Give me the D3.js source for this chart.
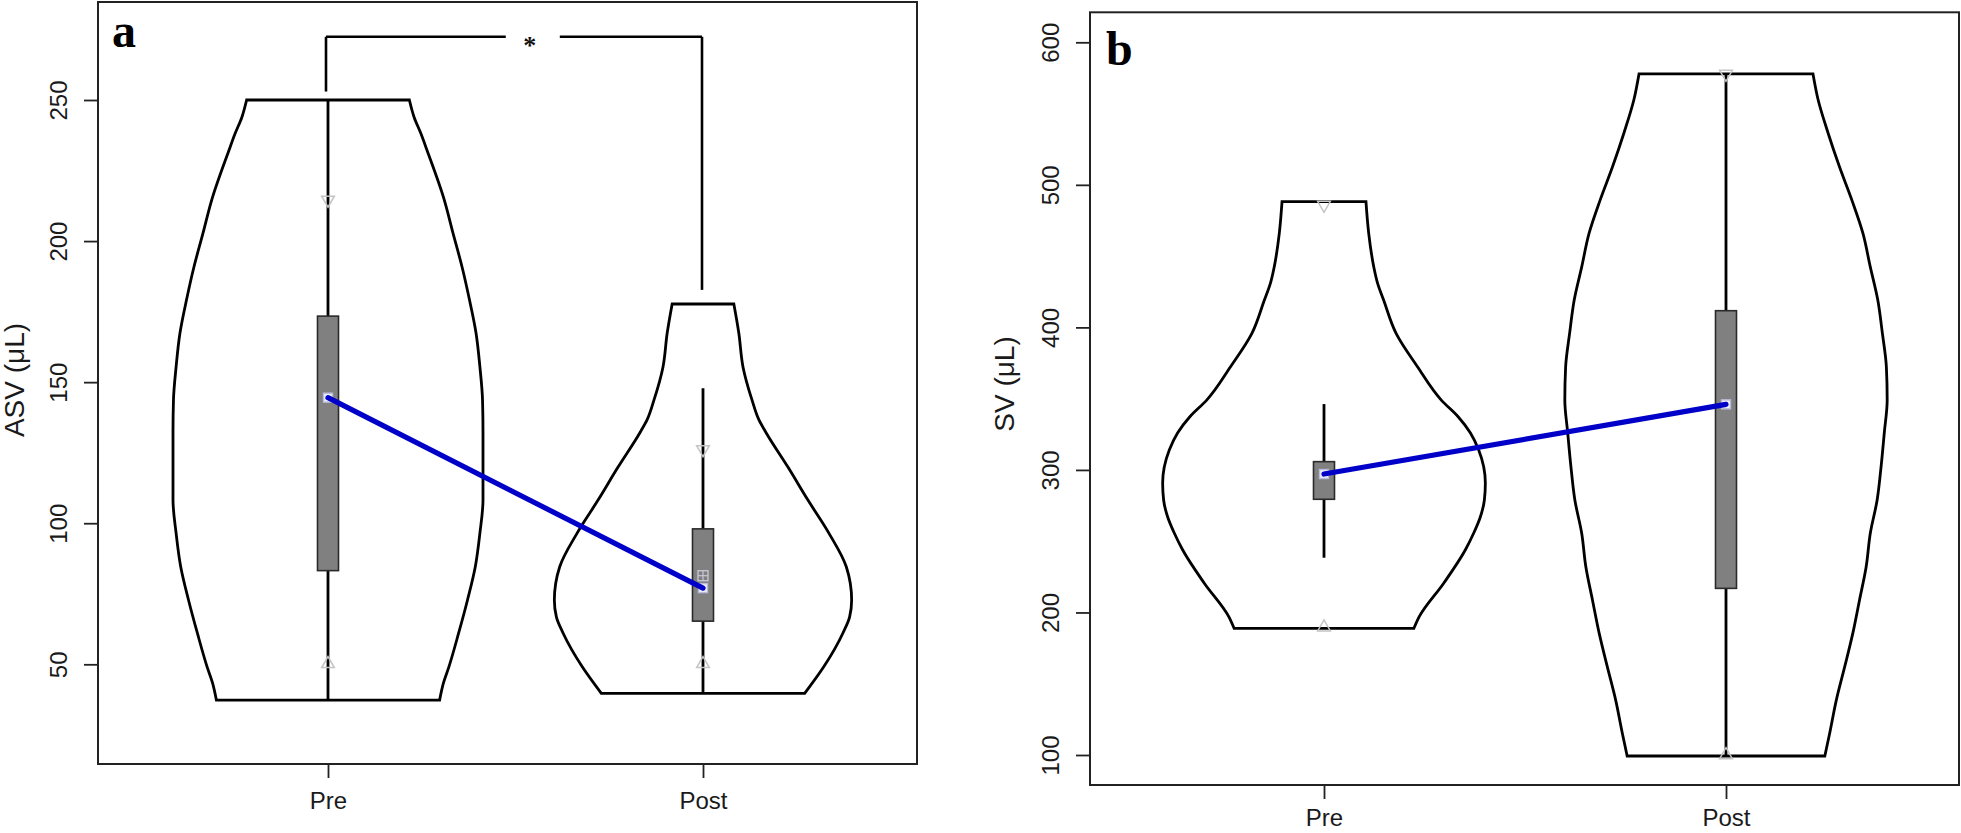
<!DOCTYPE html>
<html><head><meta charset="utf-8">
<script src="https://cdn.jsdelivr.net/npm/d3@7/dist/d3.min.js"></script>
<style>
html,body{margin:0;padding:0;background:#fff;}
svg{display:block;}
</style></head><body>
<svg id="chart" width="1961" height="833"></svg>
<script>
// ---------------- DATA ----------------
const categories = ["Pre", "Post"];

// Panel a: ASV (µL)
const asvTicks = [50, 100, 150, 200, 250];
// [value, relative density (0..1)]
const asvPreDensity = [[37.3,0.72],[43.4,0.745],[49.1,0.78],[61.1,0.843],[72.8,0.90],[84.5,0.95],[96.5,0.98],[108.2,1.0],[120,1.0],[132,1.0],[143.7,0.997],[155.4,0.98],[167.4,0.955],[179.1,0.913],[190.8,0.865],[202.9,0.806],[214.6,0.75],[232,0.64],[238,0.60],[244,0.555],[250,0.525]];
const asvPostDensity = [[39.7,0.656],[49.1,0.779],[61.1,0.903],[66.8,0.946],[72.8,0.959],[84.5,0.925],[96.5,0.812],[108.2,0.677],[119.9,0.548],[132,0.408],[136.6,0.361],[143.7,0.316],[155.4,0.258],[167.4,0.231],[177.7,0.199]];
const asvWhiskerLow = [37.3, 39.7];
const asvQ1 = [83.2, 65.3];
const asvMedian = [144.5, 77.0];
const asvQ3 = [173.4, 98.0];
const asvWhiskerHigh = [250, 147.8];
const asvUpperMark = [214.6, 126.2];
const asvLowerMark = [49.8, 49.8];
const asvMean = [null, 81.4];
const asvBracket = [272.4, 253.0, 182.7]; // level, left end, right end
const asvSignif = "*";

// Panel b: SV (µL)
const svTicks = [100, 200, 300, 400, 500, 600];
const svPreDensity = [[188.9,0.555],[196.9,0.587],[220.7,0.74],[244,0.873],[255.9,0.925],[267,0.965],[278.9,0.99],[290.8,0.996],[313.9,0.955],[325.9,0.904],[337.3,0.828],[349,0.724],[372.4,0.577],[395.8,0.445],[419.2,0.368],[430.9,0.331],[442.6,0.307],[466,0.276],[488.2,0.259]];
const svPostDensity = [[99.3,0.61],[115.3,0.64],[138.5,0.681],[161.6,0.732],[185.5,0.783],[208.6,0.824],[231.9,0.865],[255.7,0.891],[278.9,0.933],[302,0.957],[325.9,0.977],[349,0.995],[372.2,0.99],[396.1,0.965],[419.2,0.937],[442.3,0.891],[466.1,0.845],[489.3,0.777],[512.5,0.701],[536.4,0.63],[559.5,0.569],[577.8,0.537]];
const svWhiskerLow = [238.4, 99.3];
const svQ1 = [279.4, 216.9];
const svMedian = [297.1, 346.0];
const svQ3 = [305.8, 411.7];
const svWhiskerHigh = [346.2, 577.8];
const svUpperMark = [485.9, 577.8];
const svLowerMark = [188.9, 99.3];
const svMean = [null, null];

// ---------------- LAYOUT ----------------
const svg = d3.select("#chart");
const FONT = "'Liberation Sans', Arial, sans-serif";
const INK = "#1a1a1a";

const panels = [
  { label: "a", title: "ASV (\u03bcL)", ticks: asvTicks,
    dens: [asvPreDensity, asvPostDensity],
    wLo: asvWhiskerLow, q1: asvQ1, med: asvMedian, q3: asvQ3, wHi: asvWhiskerHigh,
    upM: asvUpperMark, loM: asvLowerMark, mean: asvMean,
    frame: {x0: 98, x1: 917, y0: 2, y1: 764},
    yDom: [50, 250], yRng: [664.3, 100],
    xRng: [328, 703], halfMax: 155, xLabY: 45,
    labelPos: [112, 46.7], titlePos: [24, 380], bracket: true },
  { label: "b", title: "SV (\u03bcL)", ticks: svTicks,
    dens: [svPreDensity, svPostDensity],
    wLo: svWhiskerLow, q1: svQ1, med: svMedian, q3: svQ3, wHi: svWhiskerHigh,
    upM: svUpperMark, loM: svLowerMark, mean: svMean,
    frame: {x0: 1090, x1: 1959, y0: 12.3, y1: 785},
    yDom: [100, 600], yRng: [755, 42.3],
    xRng: [1324, 1726], halfMax: 162, xLabY: 41,
    labelPos: [1106, 65], titlePos: [1014, 384], bracket: false }
];

panels.forEach(p => {
  const g = svg.append("g");
  const y = d3.scaleLinear().domain(p.yDom).range(p.yRng);
  const x = d3.scalePoint().domain(categories).range(p.xRng);
  const w = d3.scaleLinear().domain([0, 1]).range([0, p.halfMax]);
  const f = p.frame;

  // violins
  categories.forEach((c, i) => {
    const cx = x(c);
    const area = d3.area()
      .y(d => y(d[0]))
      .x0(d => cx - w(d[1]))
      .x1(d => cx + w(d[1]))
      .curve(d3.curveMonotoneY);
    g.append("path").attr("d", area(p.dens[i]))
      .attr("fill", "none").attr("stroke", "#000").attr("stroke-width", 2.8)
      .attr("stroke-linejoin", "miter");
  });

  // whiskers + boxes
  categories.forEach((c, i) => {
    const cx = x(c);
    g.append("line").attr("x1", cx).attr("x2", cx)
      .attr("y1", y(p.wHi[i])).attr("y2", y(p.wLo[i]))
      .attr("stroke", "#000").attr("stroke-width", 2.8);
    g.append("rect").attr("x", cx - 10.5).attr("width", 21)
      .attr("y", y(p.q3[i])).attr("height", y(p.q1[i]) - y(p.q3[i]))
      .attr("fill", "#808080").attr("stroke", "#2a2a2a").attr("stroke-width", 1.6);
  });

  // grey triangle markers
  categories.forEach((c, i) => {
    const cx = x(c);
    const tri = d3.symbol(d3.symbolTriangle, 70);
    g.append("path").attr("d", tri())
      .attr("transform", `translate(${cx},${y(p.upM[i])}) rotate(180)`)
      .attr("fill", "none").attr("stroke", "#c4c4c4").attr("stroke-width", 1.5);
    g.append("path").attr("d", tri())
      .attr("transform", `translate(${cx},${y(p.loM[i]) - 1})`)
      .attr("fill", "none").attr("stroke", "#c4c4c4").attr("stroke-width", 1.5);
    if (p.mean[i] != null) {
      const my = y(p.mean[i]);
      g.append("rect").attr("x", cx - 5).attr("y", my - 5).attr("width", 10).attr("height", 10)
        .attr("fill", "none").attr("stroke", "#c8c8d8").attr("stroke-width", 1.3);
      g.append("line").attr("x1", cx - 5).attr("x2", cx + 5).attr("y1", my).attr("y2", my)
        .attr("stroke", "#c8c8d8").attr("stroke-width", 1.2);
      g.append("line").attr("x1", cx).attr("x2", cx).attr("y1", my - 5).attr("y2", my + 5)
        .attr("stroke", "#c8c8d8").attr("stroke-width", 1.2);
    }
  });

  // median markers
  categories.forEach((c, i) => {
    const cx = x(c), my = y(p.med[i]);
    g.append("rect").attr("x", cx - 4.5).attr("y", my - 4.5).attr("width", 9).attr("height", 9)
      .attr("fill", "#eef0fa").attr("stroke", "#b8bcd8").attr("stroke-width", 1.4);
  });

  // blue line connecting medians
  const medLine = d3.line().x(d => x(d[0])).y(d => y(d[1]));
  g.append("path")
    .attr("d", medLine(categories.map((c, i) => [c, p.med[i]])))
    .attr("fill", "none").attr("stroke", "#0000c8").attr("stroke-width", 5.2)
    .attr("stroke-linecap", "round");

  // frame
  g.append("rect").attr("x", f.x0).attr("y", f.y0)
    .attr("width", f.x1 - f.x0).attr("height", f.y1 - f.y0)
    .attr("fill", "none").attr("stroke", "#222").attr("stroke-width", 2);

  // y axis
  const ya = g.append("g").attr("transform", `translate(${f.x0},0)`)
    .call(d3.axisLeft(y).tickValues(p.ticks).tickSize(14).tickFormat(d3.format("d")));
  ya.select(".domain").remove();
  ya.selectAll(".tick line").attr("stroke", "#222").attr("stroke-width", 1.8);
  ya.selectAll(".tick text")
    .attr("x", 0).attr("dy", null).attr("y", -31)
    .attr("transform", "rotate(-90)")
    .attr("text-anchor", "middle")
    .attr("fill", INK).style("font-family", FONT).style("font-size", "24px");

  // x axis
  const xa = g.append("g").attr("transform", `translate(0,${f.y1})`)
    .call(d3.axisBottom(x).tickSize(14));
  xa.select(".domain").remove();
  xa.selectAll(".tick line").attr("stroke", "#222").attr("stroke-width", 1.8);
  xa.selectAll(".tick text").attr("y", p.xLabY).attr("dy", null)
    .attr("fill", INK).style("font-family", FONT).style("font-size", "24px");

  // y title
  g.append("text").text(p.title)
    .attr("transform", `translate(${p.titlePos[0]},${p.titlePos[1]}) rotate(-90)`)
    .attr("text-anchor", "middle").attr("fill", INK)
    .style("font-family", FONT).style("font-size", "28px");

  // panel label
  g.append("text").text(p.label)
    .attr("x", p.labelPos[0]).attr("y", p.labelPos[1])
    .attr("fill", "#000")
    .style("font-family", "'Liberation Serif', 'Times New Roman', serif")
    .style("font-weight", "bold").style("font-size", "48px");

  // significance bracket
  if (p.bracket) {
    const [lvl, lEnd, rEnd] = asvBracket;
    const xl = x(categories[0]) - 2, xr = x(categories[1]) - 1;
    const yl = y(lvl);
    const starX = xl + (xr - xl) * 0.55;
    const gapHalf = 27;
    const bs = {stroke: "#000", "stroke-width": 2.6};
    const seg = (x1, y1, x2, y2) => {
      const l = g.append("line").attr("x1", x1).attr("y1", y1).attr("x2", x2).attr("y2", y2);
      Object.entries(bs).forEach(([k, v]) => l.attr(k, v));
    };
    seg(xl, y(lEnd), xl, yl);
    seg(xl, yl, starX - gapHalf, yl);
    seg(starX + gapHalf, yl, xr, yl);
    seg(xr, yl, xr, y(rEnd));
    g.append("text").text(asvSignif)
      .attr("x", starX - 3).attr("y", yl + 17)
      .attr("text-anchor", "middle").attr("fill", "#111")
      .style("font-family", "'Liberation Serif', serif").style("font-weight", "bold")
      .style("font-size", "26px");
  }
});
</script>
</body></html>
